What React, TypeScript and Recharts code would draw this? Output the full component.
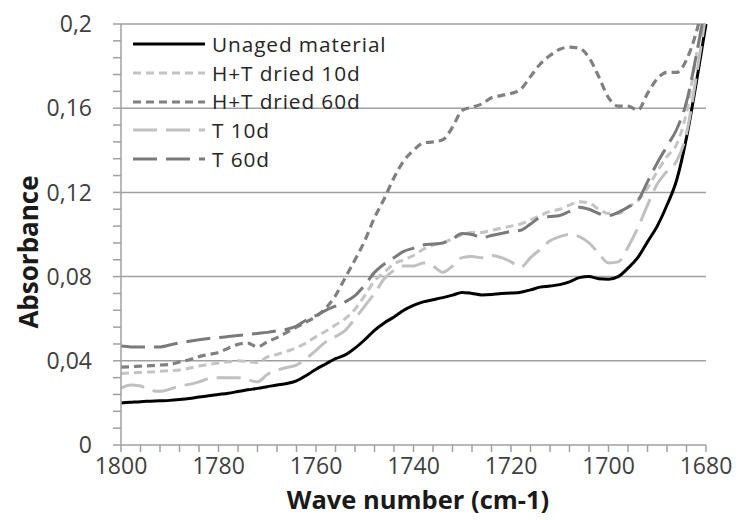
import React from "react";
import { LineChart, Line, XAxis, YAxis, ReferenceLine, Legend } from "recharts";

const wavenumbers = [
  1800, 1798, 1796, 1794, 1792, 1790, 1788, 1786, 1784, 1782, 1780, 1778, 1776, 1774, 1772, 1770,
  1768, 1766, 1764, 1762, 1760, 1758, 1756, 1754, 1752, 1750, 1748, 1746, 1744, 1742, 1740, 1738,
  1736, 1734, 1732, 1730, 1728, 1726, 1724, 1722, 1720, 1718, 1716, 1714, 1712, 1710, 1708, 1706,
  1704, 1702, 1700, 1698, 1696, 1694, 1692, 1690, 1688, 1686, 1684, 1682, 1680,
];

const unaged = [
  0.02, 0.0203, 0.0206, 0.0208, 0.021, 0.0212, 0.0216, 0.0221, 0.0228, 0.0234, 0.024, 0.0246, 0.0254, 0.0262, 0.0269, 0.0277,
  0.0285, 0.0292, 0.0305, 0.033, 0.036, 0.0385, 0.041, 0.0428, 0.046, 0.05, 0.0545, 0.058, 0.0608, 0.064, 0.0663, 0.068,
  0.069, 0.07, 0.0712, 0.0725, 0.072, 0.0713, 0.0715, 0.072, 0.0722, 0.0726, 0.0737, 0.075, 0.0755, 0.0762, 0.0775, 0.0795,
  0.08, 0.079, 0.0788, 0.08, 0.084, 0.089, 0.0965, 0.104, 0.114, 0.126, 0.146, 0.172, 0.2,
];

const htDried10 = [
  0.034, 0.0343, 0.0345, 0.0347, 0.035, 0.0353, 0.0356, 0.0365, 0.0375, 0.0383, 0.039, 0.0395, 0.04, 0.0396, 0.0392, 0.0418,
  0.043, 0.0445, 0.0462, 0.0485, 0.0515, 0.054, 0.057, 0.06, 0.0645, 0.071, 0.078, 0.082, 0.086, 0.088, 0.09, 0.093,
  0.095, 0.096, 0.098, 0.1, 0.101, 0.101, 0.102, 0.103, 0.104, 0.105, 0.107, 0.109, 0.111, 0.112, 0.114, 0.1155,
  0.115, 0.112, 0.11, 0.11, 0.113, 0.116, 0.122, 0.13, 0.137, 0.143, 0.158, 0.185, 0.21,
];

const htDried60 = [
  0.037, 0.0372, 0.0375, 0.0377, 0.038, 0.0382, 0.0395, 0.0405, 0.042, 0.043, 0.044, 0.046, 0.0478, 0.0484, 0.0466, 0.049,
  0.051, 0.0535, 0.056, 0.0585, 0.061, 0.065, 0.071, 0.0795, 0.088, 0.097, 0.108, 0.117, 0.127, 0.135, 0.14, 0.1435,
  0.144, 0.145, 0.151, 0.159, 0.1605, 0.162, 0.165, 0.166, 0.167, 0.169, 0.175, 0.181, 0.185, 0.188, 0.189, 0.1885,
  0.184, 0.175, 0.165, 0.161, 0.161, 0.159, 0.167, 0.174, 0.177, 0.177, 0.183, 0.196, 0.215,
];

const t10 = [
  0.027, 0.0285, 0.028, 0.026, 0.0255, 0.0265, 0.028, 0.0288, 0.03, 0.0315, 0.032, 0.032, 0.032, 0.031, 0.03, 0.0335,
  0.0355, 0.0368, 0.038, 0.041, 0.045, 0.049, 0.0515, 0.0545, 0.06, 0.066, 0.072, 0.079, 0.083, 0.085, 0.085, 0.0865,
  0.085, 0.082, 0.085, 0.089, 0.0895, 0.089, 0.09, 0.089, 0.087, 0.0845, 0.089, 0.093, 0.097, 0.099, 0.1, 0.099,
  0.096, 0.091, 0.0865, 0.087, 0.094, 0.103, 0.114, 0.124, 0.13, 0.135, 0.148, 0.175, 0.205,
];

const t60 = [
  0.047, 0.0466, 0.0465, 0.0465, 0.0466, 0.0475, 0.0485, 0.0493, 0.05, 0.0506, 0.051, 0.0515, 0.052, 0.0525, 0.053, 0.0535,
  0.0542, 0.055, 0.0565, 0.0594, 0.0615, 0.064, 0.066, 0.068, 0.071, 0.076, 0.082, 0.086, 0.089, 0.092, 0.0935, 0.095,
  0.0955, 0.096, 0.098, 0.1005, 0.1, 0.0985, 0.0995, 0.1005, 0.1015, 0.102, 0.105, 0.108, 0.1085, 0.109, 0.111, 0.113,
  0.112, 0.11, 0.109, 0.1105, 0.113, 0.116, 0.125, 0.134, 0.142, 0.15, 0.163, 0.185, 0.21,
];

const xTicks = [
  1800, 1796, 1792, 1788, 1784, 1780, 1776, 1772, 1768, 1764, 1760, 1756, 1752, 1748, 1744, 1740,
  1736, 1732, 1728, 1724, 1720, 1716, 1712, 1708, 1704, 1700, 1696, 1692, 1688, 1684, 1680,
];
const xLabelled = [1800, 1780, 1760, 1740, 1720, 1700, 1680];

const yTicks = [
  0, 0.008, 0.016, 0.024, 0.032, 0.04, 0.048, 0.056, 0.064, 0.072, 0.08, 0.088, 0.096, 0.104,
  0.112, 0.12, 0.128, 0.136, 0.144, 0.152, 0.16, 0.168, 0.176, 0.184, 0.192, 0.2,
];
const yLabelled = [0, 0.04, 0.08, 0.12, 0.16, 0.2];
const gridValues = [0.04, 0.08, 0.12, 0.16, 0.2];

const seriesNames = ["Unaged material", "H+T dried 10d", "H+T dried 60d", "T 10d", "T 60d"];
const seriesKeys = ["unaged", "ht10", "ht60", "t10", "t60"];

const styles: Record<string, { color: string; width: number; dash?: string }> = {
  unaged: { color: "#000000", width: 3 },
  ht10: { color: "#c4c4c4", width: 3, dash: "8 5" },
  ht60: { color: "#808080", width: 3.2, dash: "8 5" },
  t10: { color: "#c0c0c0", width: 3, dash: "24 9" },
  t60: { color: "#7a7a7a", width: 3, dash: "24 9" },
};

const data = wavenumbers.map((w, i) => ({
  w,
  unaged: unaged[i],
  ht10: htDried10[i],
  ht60: htDried60[i],
  t10: t10[i],
  t60: t60[i],
}));

const FONT = "'Open Sans', 'Noto Sans', sans-serif";
const GRID = "#a0a0a0";
const TICK_FONT = 23;

const XTick = (props: any) => {
  const { x, y, payload } = props;
  const v = payload.value;
  if (!xLabelled.includes(v)) return null;
  return (
    <text x={x} y={y} dy="0.71em" textAnchor="middle" fill="#404040" fontSize={TICK_FONT} fontFamily={FONT}>
      {String(v)}
    </text>
  );
};

const YTick = (props: any) => {
  const { x, y, payload } = props;
  const hit = yLabelled.find((l) => Math.abs(l - payload.value) < 1e-9);
  if (hit === undefined) return null;
  return (
    <text x={x} y={y} dy="0.355em" textAnchor="end" fill="#404040" fontSize={TICK_FONT} fontFamily={FONT}>
      {String(hit).replace(".", ",")}
    </text>
  );
};

const LegendContent = () => (
  <div style={{ fontFamily: FONT, fontSize: 20.8, letterSpacing: 0.9, color: "#262626" }}>
    {seriesKeys.map((k, i) => {
      const s = styles[k];
      return (
        <div key={k} style={{ display: "flex", alignItems: "center", height: 28.7, whiteSpace: "nowrap" }}>
          <svg width={78} height={10} style={{ display: "block" }}>
            <line x1={6} y1={5} x2={78} y2={5} stroke={s.color} strokeWidth={s.width} strokeDasharray={s.dash} />
          </svg>
          <span style={{ marginLeft: 7, lineHeight: 1 }}>{seriesNames[i]}</span>
        </div>
      );
    })}
  </div>
);

export default function App() {
  return (
    <div style={{ position: "absolute", left: 0, top: 0, width: 740, height: 520, background: "#fff" }}>
      <LineChart width={740} height={520} data={data} margin={{ top: 24, right: 34, left: 0, bottom: 0 }}>
        <XAxis
          dataKey="w"
          type="number"
          domain={[1680, 1800]}
          reversed
          ticks={xTicks}
          interval={0}
          height={75}
          tickSize={7}
          tickMargin={6}
          axisLine={{ stroke: GRID, strokeWidth: 1.5 }}
          tickLine={{ stroke: GRID, strokeWidth: 1.5 }}
          tick={<XTick />}
          label={{
            content: () => (
              <text x={418} y={509} textAnchor="middle" fontFamily={FONT} fontWeight="bold" fontSize={25.5} fill="#1a1a1a">
                Wave number (cm-1)
              </text>
            ),
          }}
        />
        <YAxis
          type="number"
          domain={[0, 0.2]}
          allowDataOverflow
          ticks={yTicks}
          interval={0}
          width={121}
          tickSize={8}
          tickMargin={21}
          axisLine={{ stroke: GRID, strokeWidth: 1.5 }}
          tickLine={{ stroke: GRID, strokeWidth: 1.5 }}
          tick={<YTick />}
          label={{
            content: () => (
              <text
                x={28}
                y={252}
                textAnchor="middle"
                dominantBaseline="central"
                transform="rotate(-90 28 252)"
                fontFamily={FONT}
                fontWeight="bold"
                fontSize={26}
                fill="#1a1a1a"
              >
                Absorbance
              </text>
            ),
          }}
        />
        {gridValues.map((g) => (
          <ReferenceLine key={g} y={g} stroke={GRID} strokeWidth={1.5} />
        ))}
        <Legend
          layout="vertical"
          align="center"
          verticalAlign="middle"
          content={LegendContent}
          wrapperStyle={{ top: 30, left: 127, width: 300, height: 145 }}
        />
        {seriesKeys.map((k, i) => {
          const s = styles[k];
          return (
            <Line
              key={k}
              dataKey={k}
              name={seriesNames[i]}
              type="monotone"
              stroke={s.color}
              strokeWidth={s.width}
              strokeDasharray={s.dash}
              dot={false}
              activeDot={false}
              isAnimationActive={false}
            />
          );
        })}
      </LineChart>
    </div>
  );
}
